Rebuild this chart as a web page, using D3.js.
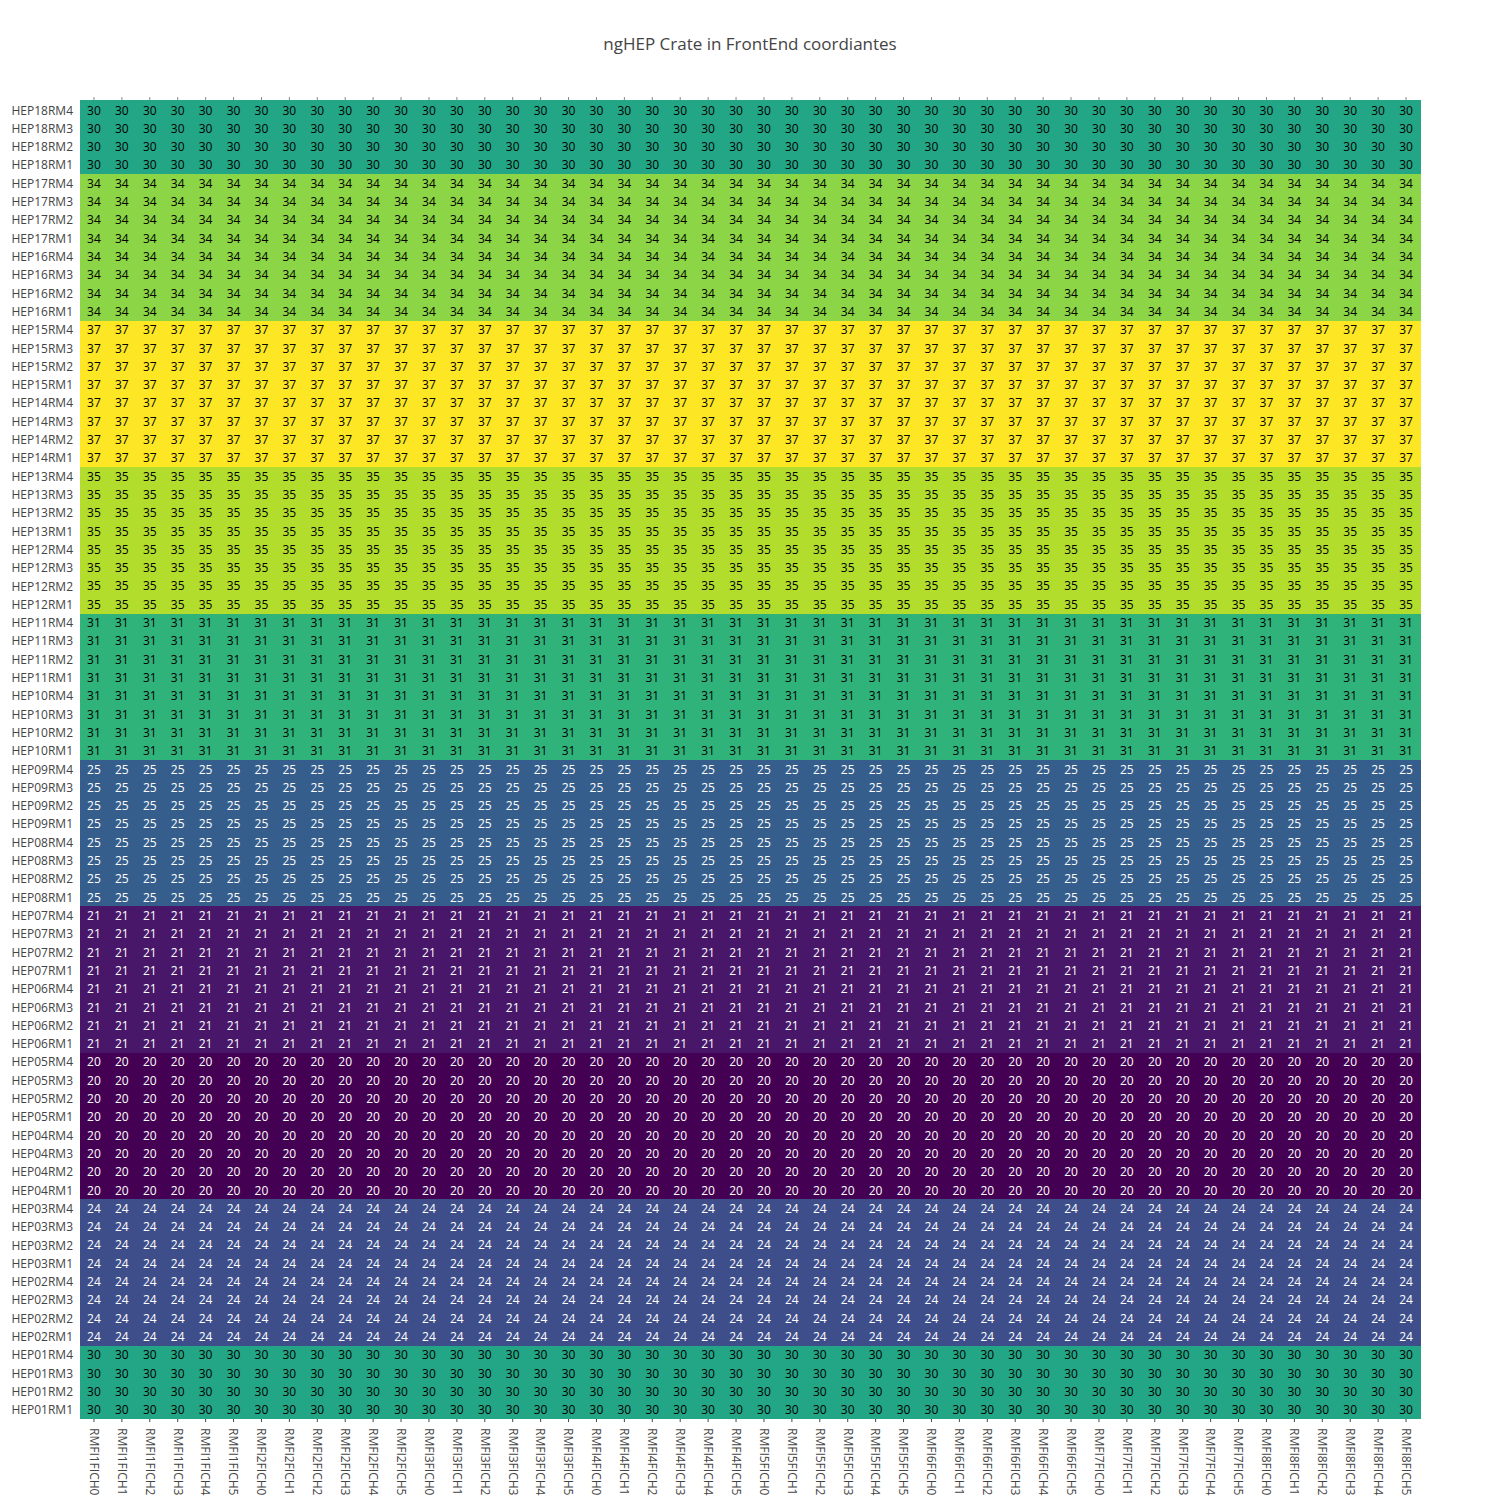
<!DOCTYPE html>
<html>
<head>
<meta charset="utf-8">
<script src="https://cdn.jsdelivr.net/npm/d3@7"></script>
<style>
  body { margin: 0; background: #fff; }
  svg { display: block; font-family: "Open Sans", Verdana, Arial, sans-serif; }
</style>
</head>
<body>
<svg id="chart" width="1500" height="1500"></svg>
<script>
// ---- data ----
const title = "ngHEP Crate in FrontEnd coordiantes";
const hepGroups = ["HEP01","HEP02","HEP03","HEP04","HEP05","HEP06","HEP07","HEP08","HEP09",
                   "HEP10","HEP11","HEP12","HEP13","HEP14","HEP15","HEP16","HEP17","HEP18"];
const hepValues = [30, 24, 24, 20, 20, 21, 21, 25, 25, 31, 31, 35, 35, 37, 37, 34, 34, 30];
const rmSuffixes = ["RM1","RM2","RM3","RM4"];
const rmfiGroups = ["RMFI1","RMFI2","RMFI3","RMFI4","RMFI5","RMFI6","RMFI7","RMFI8"];
const fichSuffixes = ["FICH0","FICH1","FICH2","FICH3","FICH4","FICH5"];

const yCategories = [];
const rowValues = [];
hepGroups.forEach((h, i) => rmSuffixes.forEach(r => { yCategories.push(h + r); rowValues.push(hepValues[i]); }));
const xCategories = [];
rmfiGroups.forEach(g => fichSuffixes.forEach(f => xCategories.push(g + f)));

const cells = [];
yCategories.forEach((y, yi) => xCategories.forEach(x => cells.push({x, y, v: rowValues[yi]})));

// Plotly viridis
const viridisStops = ['#440154','#48186a','#472d7b','#424086','#3b528b','#33638d','#2c728e','#26828e',
  '#21918c','#1fa088','#28ae80','#3fbc73','#5ec962','#84d44b','#addc30','#d8e219','#fde725'];

// ---- layout ----
const svg = d3.select("#chart");
const L = 80, R = 1420, T = 100, B = 1418;

const x = d3.scaleBand().domain(xCategories).range([L, R]).padding(0);
const y = d3.scaleBand().domain(yCategories).range([B, T]).padding(0);

const vmin = d3.min(hepValues), vmax = d3.max(hepValues);
const stopDomain = viridisStops.map((_, i) => vmin + (vmax - vmin) * i / (viridisStops.length - 1));
const color = d3.scaleLinear().domain(stopDomain).range(viridisStops).interpolate(d3.interpolateRgb);

// title
svg.append("text")
  .attr("x", 750).attr("y", 50)
  .attr("text-anchor", "middle")
  .attr("fill", "#444").attr("font-size", 17)
  .text(title);

// tiny tick marks (top and bottom)
const tickG = svg.append("g");
tickG.selectAll("line.tt").data(xCategories).join("line")
  .attr("x1", d => x(d) + x.bandwidth()/2).attr("x2", d => x(d) + x.bandwidth()/2)
  .attr("y1", T - 3).attr("y2", T)
  .attr("stroke", "#888").attr("stroke-width", 1);
tickG.selectAll("line.tb").data(xCategories).join("line")
  .attr("x1", d => x(d) + x.bandwidth()/2).attr("x2", d => x(d) + x.bandwidth()/2)
  .attr("y1", B).attr("y2", B + 4)
  .attr("stroke", "#444").attr("stroke-width", 1);

// cells: one row-band per row to avoid seams, drawn via scales
svg.append("g").attr("shape-rendering", "crispEdges")
  .selectAll("rect").data(cells).join("rect")
  .attr("x", d => x(d.x)).attr("y", d => y(d.y))
  .attr("width", x.bandwidth() + 1).attr("height", y.bandwidth() + 1)
  .attr("fill", d => color(d.v));

// cell text
function textColor(c) {
  const rgb = d3.rgb(c);
  const lum = (0.299*rgb.r + 0.587*rgb.g + 0.114*rgb.b);
  return lum > 110 ? "#000" : "#fff";
}
svg.append("g").selectAll("text").data(cells).join("text")
  .attr("x", d => x(d.x) + x.bandwidth()/2)
  .attr("y", d => y(d.y) + y.bandwidth()/2)
  .attr("dy", "0.45em")
  .attr("text-anchor", "middle")
  .attr("font-size", 12)
  .attr("fill", d => textColor(color(d.v)))
  .text(d => d.v);

// y axis labels
const yAxis = d3.axisLeft(y).tickSize(0).tickPadding(7);
const yg = svg.append("g").attr("transform", `translate(${L},0)`).call(yAxis);
yg.select(".domain").remove();
yg.selectAll("text").attr("font-size", 12).attr("fill", "#444").attr("font-family", "'Open Sans', sans-serif")
  .attr("dy", "0.45em");

// x axis labels (rotated 90)
const xAxis = d3.axisBottom(x).tickSize(0).tickPadding(0);
const xg = svg.append("g").attr("transform", `translate(0,${B})`).call(xAxis);
xg.select(".domain").remove();
xg.selectAll("text")
  .attr("font-size", 12).attr("fill", "#444").attr("font-family", "'Open Sans', sans-serif")
  .attr("text-anchor", "start")
  .attr("transform", "translate(0,10) rotate(90)")
  .attr("x", 0).attr("y", 0).attr("dy", "0.35em");
</script>
</body>
</html>
